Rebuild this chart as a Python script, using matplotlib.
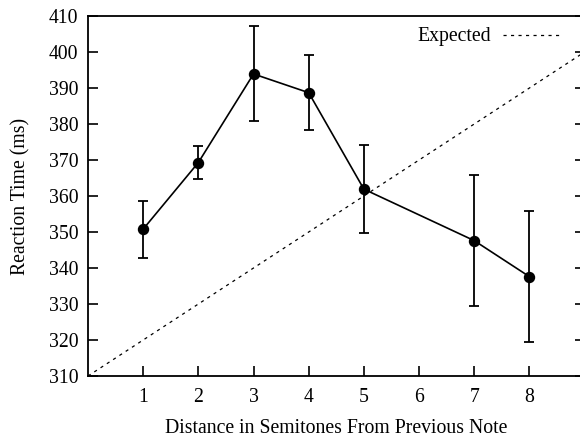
import matplotlib
matplotlib.use("Agg")
import matplotlib.pyplot as plt
import numpy as np

semitones = [1, 2, 3, 4, 5, 7, 8]
reaction_ms = [350.8, 369.3, 393.9, 388.7, 361.9, 347.6, 337.6]
err_upper = [358.7, 373.9, 407.1, 399.1, 374.1, 365.9, 355.7]
err_lower = [342.8, 364.8, 380.8, 378.3, 349.6, 329.4, 319.4]
expected_x = [0, 9]
expected_y = [310, 400]
xticks = [1, 2, 3, 4, 5, 6, 7, 8]
yticks = [310, 320, 330, 340, 350, 360, 370, 380, 390, 400, 410]

plt.rcParams['font.family'] = ['Liberation Serif', 'DejaVu Serif']
fs = 14.2

fig = plt.figure(figsize=(5.8, 4.37), dpi=100)
ax = fig.add_axes([88/580, 61/437, (584.6-88)/580, 360/437])

y = np.array(reaction_ms)
yerr = [y - np.array(err_lower), np.array(err_upper) - y]
ax.errorbar(semitones, y, yerr=yerr, color='black', lw=1.2, elinewidth=1.3,
            capsize=3.6, capthick=1.3, marker='o', markersize=7.2, zorder=3)
ax.plot(expected_x, expected_y, color='black', lw=0.9, linestyle=(0, (2.5, 3.5)),
        label='Expected')

ax.set_xlim(0, 9)
ax.set_ylim(310, 410)
ax.set_xticks(xticks)
ax.set_yticks(yticks)
ax.tick_params(axis='both', direction='in', length=7, width=1.2, labelsize=fs)
ax.tick_params(axis='y', right=True, pad=7)
ax.tick_params(axis='x', top=False, pad=9)
for s in ax.spines.values():
    s.set_linewidth(1.3)

ax.set_xlabel('Distance in Semitones From Previous Note', fontsize=fs, labelpad=8)
ax.set_ylabel('Reaction Time (ms)', fontsize=fs, labelpad=13)

leg = ax.legend(loc='center right', bbox_to_anchor=(562/580, 1 - 37/437),
                bbox_transform=fig.transFigure, frameon=False, markerfirst=False,
                fontsize=fs, handlelength=3.0, handletextpad=0.6, borderpad=0,
                borderaxespad=0)

fig.savefig('out.png', dpi=100)
